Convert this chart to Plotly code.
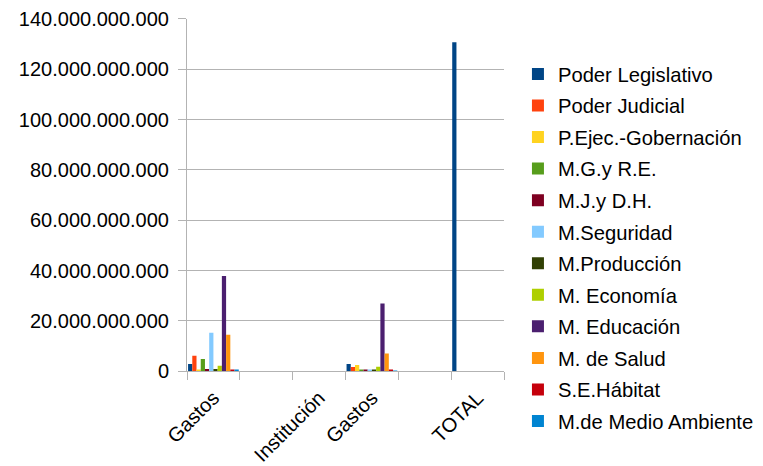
import plotly.graph_objects as go

categories = ["Gastos", "", "Institución", "Gastos", "", "TOTAL"]

series_names = [
    "Poder Legislativo", "Poder Judicial", "P.Ejec.-Gobernación", "M.G.y R.E.",
    "M.J.y D.H.", "M.Seguridad", "M.Producción", "M. Economía",
    "M. Educación", "M. de Salud", "S.E.Hábitat", "M.de Medio Ambiente",
]

poder_legislativo = [2.9e9, 0, 0, 2.9e9, 0, 130.7e9]
poder_judicial = [6.2e9, 0, 0, 1.7e9, 0, 0]
p_ejec_gobernacion = [0.5e9, 0, 0, 2.5e9, 0, 0]
m_gyre = [4.9e9, 0, 0, 0.7e9, 0, 0]
m_jydh = [0.9e9, 0, 0, 0.3e9, 0, 0]
m_seguridad = [15.3e9, 0, 0, 0.3e9, 0, 0]
m_produccion = [0.9e9, 0, 0, 0.3e9, 0, 0]
m_economia = [2.2e9, 0, 0, 1.8e9, 0, 0]
m_educacion = [37.8e9, 0, 0, 26.9e9, 0, 0]
m_salud = [14.5e9, 0, 0, 7.1e9, 0, 0]
se_habitat = [0.3e9, 0, 0, 0.3e9, 0, 0]
m_medio_ambiente = [0.3e9, 0, 0, 0.05e9, 0, 0]

series_values = [
    poder_legislativo, poder_judicial, p_ejec_gobernacion, m_gyre, m_jydh,
    m_seguridad, m_produccion, m_economia, m_educacion, m_salud, se_habitat,
    m_medio_ambiente,
]

colors = ["#004586", "#ff420e", "#ffd320", "#579d1c", "#7e0021", "#83caff",
          "#314004", "#aecf00", "#4b1f6f", "#ff950e", "#c5000b", "#0084d1"]

y_ticks = [0, 20e9, 40e9, 60e9, 80e9, 100e9, 120e9, 140e9]

x_pos = list(range(len(categories)))

fig = go.Figure()
for name, vals, col in zip(series_names, series_values, colors):
    fig.add_trace(go.Bar(
        x=x_pos, y=vals, name=name, marker=dict(color=col, line=dict(width=0)),
        legendgroup=name,
    ))

font_family = "Liberation Sans, Arial, sans-serif"

fig.update_layout(
    barmode="group",
    bargap=0.04,
    bargroupgap=0,
    width=755, height=458,
    margin=dict(l=179, r=259, t=0, b=0, autoexpand=False),
    paper_bgcolor="white",
    plot_bgcolor="white",
    separators=",.",
    font=dict(family=font_family, size=20, color="black"),
    showlegend=True,
    legend=dict(
        x=1.044, xanchor="left", y=0.899, yanchor="top",
        traceorder="grouped", tracegroupgap=2.3,
        font=dict(family=font_family, size=20.2, color="black"),
        bgcolor="rgba(0,0,0,0)",
    ),
    xaxis=dict(
        range=[-0.5, len(categories) - 0.5],
        tickmode="array", tickvals=x_pos, ticktext=categories,
        tickangle=-45, ticks="", showgrid=False, zeroline=False,
        showline=True, linecolor="#b3b3b3", linewidth=1,
        automargin=False, ticklabeloverflow="allow",
        ticklabelstandoff=6,
        minor=dict(tickmode="array",
                   tickvals=[i - 0.5 for i in range(len(categories) + 1)],
                   ticks="outside", ticklen=8, tickcolor="#b3b3b3", showgrid=False),
        tickfont=dict(size=20),
    ),
    yaxis=dict(
        domain=[0.2068, 0.9769],
        range=[0, 140.1e9],
        tickmode="array", tickvals=y_ticks,
        tickformat=",d",
        showgrid=True, gridcolor="#b3b3b3", gridwidth=1,
        zeroline=False, automargin=False,
        showline=True, linecolor="#b3b3b3", linewidth=1,
        ticks="outside", ticklen=8, tickcolor="#b3b3b3",
        ticklabelstandoff=5, ticklabeloverflow="allow",
        tickfont=dict(size=20),
    ),
)

fig.write_html("out.html")
